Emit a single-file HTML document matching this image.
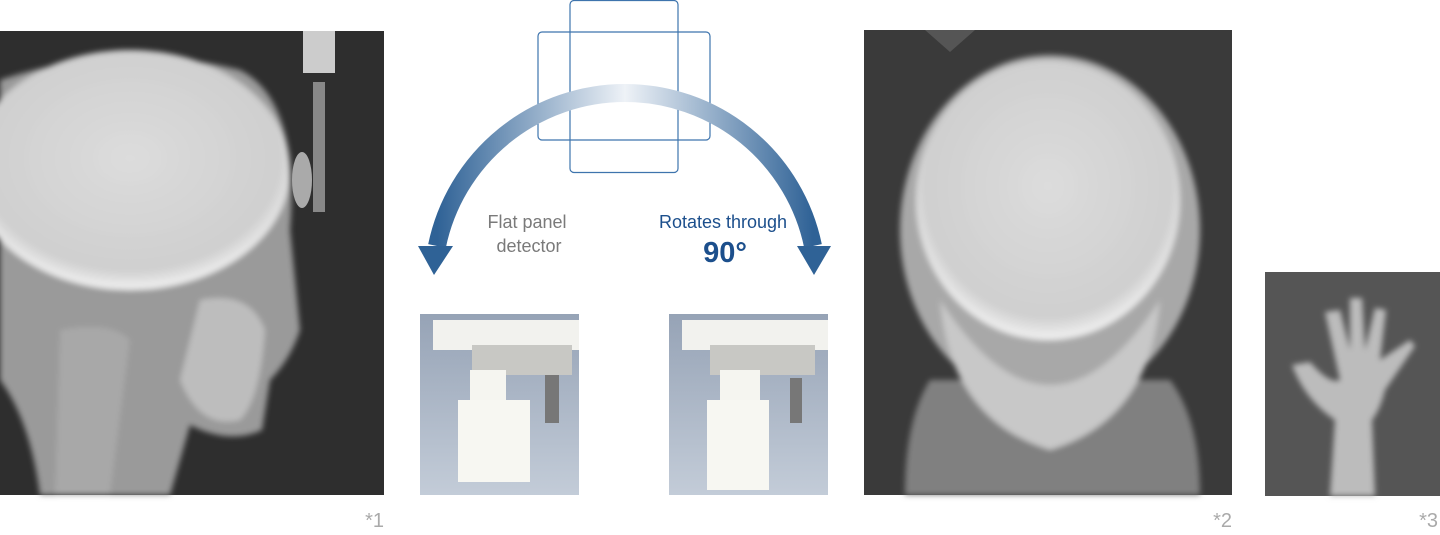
<!DOCTYPE html>
<html><head><meta charset="utf-8"><style>
html,body{margin:0;padding:0;background:#fff;width:1440px;height:535px;overflow:hidden}
svg{display:block}
text{font-family:"Liberation Sans",sans-serif}
</style></head><body>
<svg width="1440" height="535" viewBox="0 0 1440 535" xmlns="http://www.w3.org/2000/svg">
<defs>
<linearGradient id="arcL" x1="0" y1="0" x2="1" y2="0">
<stop offset="0" stop-color="#2f6296"/><stop offset="0.5" stop-color="#eef2f7"/><stop offset="1" stop-color="#2f6296"/>
</linearGradient>
<linearGradient id="photo" x1="0" y1="0" x2="0" y2="1">
<stop offset="0" stop-color="#96a3b6"/><stop offset="1" stop-color="#c3ccd8"/>
</linearGradient>
<radialGradient id="skull" cx="0.5" cy="0.45" r="0.55">
<stop offset="0" stop-color="#dcdcdc"/><stop offset="0.85" stop-color="#cfcfcf"/><stop offset="1" stop-color="#f2f2f2"/>
</radialGradient>
<filter id="bl"><feGaussianBlur stdDeviation="3"/></filter>
</defs>

<rect x="0" y="31" width="384" height="464" fill="#2e2e2e"/>
<g filter="url(#bl)">
<path d="M0 80 Q120 40 240 70 Q300 100 290 230 L300 330 Q290 360 270 380 L262 430 Q230 445 190 425 L170 495 L40 495 Q30 420 0 380 Z" fill="#9a9a9a"/>
<ellipse cx="130" cy="170" rx="160" ry="120" fill="url(#skull)"/>
<path d="M200 300 Q250 290 265 330 Q260 400 240 420 Q200 430 180 380 Z" fill="#bdbdbd"/>
<path d="M60 330 Q110 320 130 340 L110 495 L55 495 Z" fill="#a8a8a8"/>
</g>
<rect x="313" y="82" width="12" height="130" fill="#888"/>
<rect x="303" y="31" width="32" height="42" fill="#ccc"/>
<ellipse cx="302" cy="180" rx="10" ry="28" fill="#aaa"/>
<text x="384" y="527" font-size="20" fill="#aaa" text-anchor="end">*1</text>

<rect x="570" y="0.5" width="108" height="172" rx="4" fill="none" stroke="#3e74ad" stroke-width="1.2"/>
<rect x="538" y="32" width="172" height="108" rx="4" fill="none" stroke="#3e74ad" stroke-width="1.2"/>
<path d="M437 246 A192 192 0 0 1 813 246" fill="none" stroke="url(#arcL)" stroke-width="18"/>
<polygon points="418,246 453,246 434,275" fill="#2f6296"/>
<polygon points="797,246 831,246 814,275" fill="#2f6296"/>
<text x="527" y="228" font-size="18" fill="#7a7a7a" text-anchor="middle">Flat panel</text>
<text x="529" y="252" font-size="18" fill="#7a7a7a" text-anchor="middle">detector</text>
<text x="723" y="228" font-size="18" fill="#1c4f8c" text-anchor="middle">Rotates through</text>
<text x="725" y="262" font-size="29" font-weight="bold" fill="#1c4f8c" text-anchor="middle">90°</text>

<rect x="420" y="314" width="159" height="181" fill="url(#photo)"/>
<rect x="433" y="320" width="146" height="30" fill="#f2f2ee"/>
<rect x="472" y="345" width="100" height="30" fill="#c8c8c4"/>
<rect x="470" y="370" width="36" height="60" fill="#f5f5f0"/>
<rect x="458" y="400" width="72" height="82" fill="#f7f7f2"/>
<rect x="545" y="375" width="14" height="48" fill="#777"/>
<rect x="669" y="314" width="159" height="181" fill="url(#photo)"/>
<rect x="682" y="320" width="146" height="30" fill="#f2f2ee"/>
<rect x="710" y="345" width="105" height="30" fill="#c8c8c4"/>
<rect x="720" y="370" width="40" height="60" fill="#f5f5f0"/>
<rect x="707" y="400" width="62" height="90" fill="#f7f7f2"/>
<rect x="790" y="378" width="12" height="45" fill="#777"/>

<rect x="864" y="30" width="368" height="465" fill="#3a3a3a"/>
<g filter="url(#bl)">
<path d="M905 495 Q905 420 930 380 L1170 380 Q1200 420 1200 495 Z" fill="#808080"/>
<ellipse cx="1050" cy="230" rx="150" ry="175" fill="#a8a8a8"/>
<ellipse cx="1048" cy="200" rx="132" ry="140" fill="url(#skull)"/>
<path d="M940 300 Q1050 470 1160 300 Q1150 420 1050 450 Q950 420 940 300 Z" fill="#c8c8c8"/>
</g>
<polygon points="925,30 975,30 950,52" fill="#555"/>
<text x="1232" y="527" font-size="20" fill="#aaa" text-anchor="end">*2</text>

<rect x="1265" y="272" width="175" height="224" fill="#555"/>
<g filter="url(#bl)" fill="#bcbcbc">
<path d="M1330 496 L1335 420 Q1305 400 1292 365 L1310 362 Q1330 385 1340 380 L1325 312 L1340 310 L1350 350 L1350 298 L1362 298 L1365 350 L1375 308 L1386 310 L1380 360 L1410 340 L1415 346 L1385 390 Q1380 410 1372 420 L1375 496 Z"/>
</g>
<text x="1438" y="527" font-size="20" fill="#aaa" text-anchor="end">*3</text>
</svg>
</body></html>
